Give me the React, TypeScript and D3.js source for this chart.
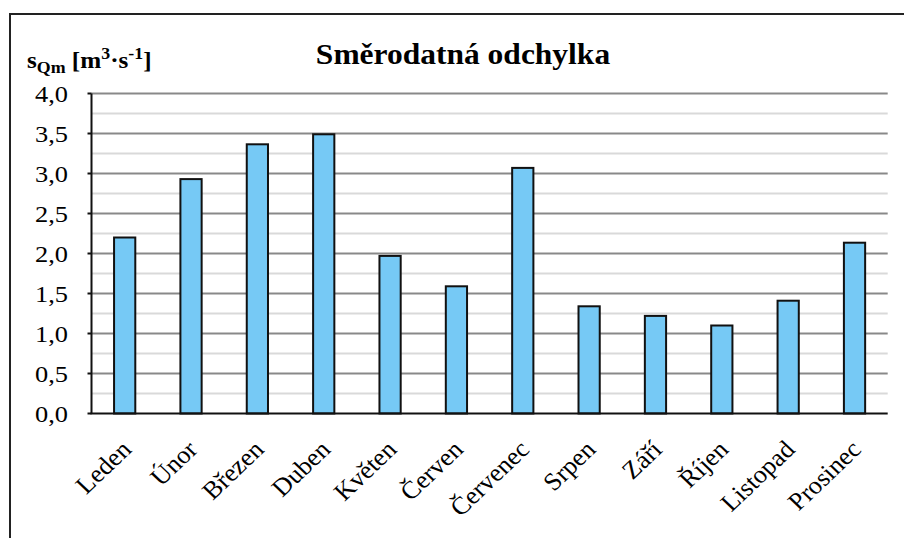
import React from "react";
import * as d3 from "d3";

const months = ["Leden", "Únor", "Březen", "Duben", "Květen", "Červen", "Červenec", "Srpen", "Září", "Říjen", "Listopad", "Prosinec"];
const stdDev = [2.2, 2.93, 3.365, 3.49, 1.97, 1.59, 3.07, 1.34, 1.22, 1.1, 1.41, 2.135];
const yTicks = [0, 0.5, 1, 1.5, 2, 2.5, 3, 3.5, 4];
const minorTicks = [0.25, 0.75, 1.25, 1.75, 2.25, 2.75, 3.25, 3.75];
const title = "Směrodatná odchylka";

const W = 904, H = 538;
const plot = { left: 91.5, right: 887.7, top: 93.5, bottom: 413.5 };
const FONT = "'Liberation Serif', 'Times New Roman', serif";

export default function App() {
  const x = d3.scaleBand<string>().domain(months).range([plot.left, plot.right]).paddingInner(0.68).paddingOuter(0.34);
  const y = d3.scaleLinear().domain([0, 4]).range([plot.bottom, plot.top]);
  const fmt = (v: number) => d3.format(".1f")(v).replace(".", ",");
  return (
    <svg width={W} height={H} style={{ position: "absolute", left: 0, top: 0, background: "#fff" }} fontFamily={FONT}>
      <rect x={10} y={14} width={2000} height={2000} fill="none" stroke="#222" strokeWidth={2} />
      {minorTicks.map((t) => (
        <line key={"m" + t} x1={plot.left} x2={plot.right} y1={y(t)} y2={y(t)} stroke="#D9D9D9" strokeWidth={2} />
      ))}
      {yTicks.slice(1).map((t) => (
        <line key={"g" + t} x1={plot.left} x2={plot.right} y1={y(t)} y2={y(t)} stroke="#898989" strokeWidth={2} />
      ))}
      {stdDev.map((v, i) => (
        <rect key={months[i]} x={x(months[i])!} y={y(v)} width={x.bandwidth()} height={y(0) - y(v)} fill="#76C9F5" stroke="#111" strokeWidth={2} />
      ))}
      <line x1={plot.left} x2={plot.left} y1={plot.top} y2={plot.bottom} stroke="#111" strokeWidth={2} />
      {yTicks.map((t) => (
        <line key={"t" + t} x1={plot.left - 4} x2={plot.left} y1={y(t)} y2={y(t)} stroke="#111" strokeWidth={2} />
      ))}
      <line x1={plot.left - 1} x2={plot.right} y1={plot.bottom} y2={plot.bottom} stroke="#111" strokeWidth={2} />
      {yTicks.map((t) => (
        <text key={"l" + t} transform={`translate(68,${y(t)}) scale(1.1,1)`} textAnchor="end" dy="0.35em" fontSize={24} fill="#000">
          {fmt(t)}
        </text>
      ))}
      {months.map((m) => {
        const cx = x(m)! + x.bandwidth() / 2;
        return (
          <text key={"x" + m} transform={`translate(${cx + 8},451) scale(1.05,1) rotate(-45)`} textAnchor="end" fontSize={25} fill="#000">
            {m}
          </text>
        );
      })}
      <text transform={`translate(463,64) scale(1.05,1)`} textAnchor="middle" fontSize={30} fontWeight="bold" fill="#000">
        {title}
      </text>
      <text transform="translate(27,68) scale(1.05,1)" fontSize={24} fontWeight="bold" fill="#000">
        s<tspan fontSize={17} dy={5}>Qm</tspan>
        <tspan dy={-5}> [m</tspan>
        <tspan fontSize={17} dy={-9}>3</tspan>
        <tspan dy={9}>·s</tspan>
        <tspan fontSize={17} dy={-9}>-1</tspan>
        <tspan dy={9}>]</tspan>
      </text>
    </svg>
  );
}
